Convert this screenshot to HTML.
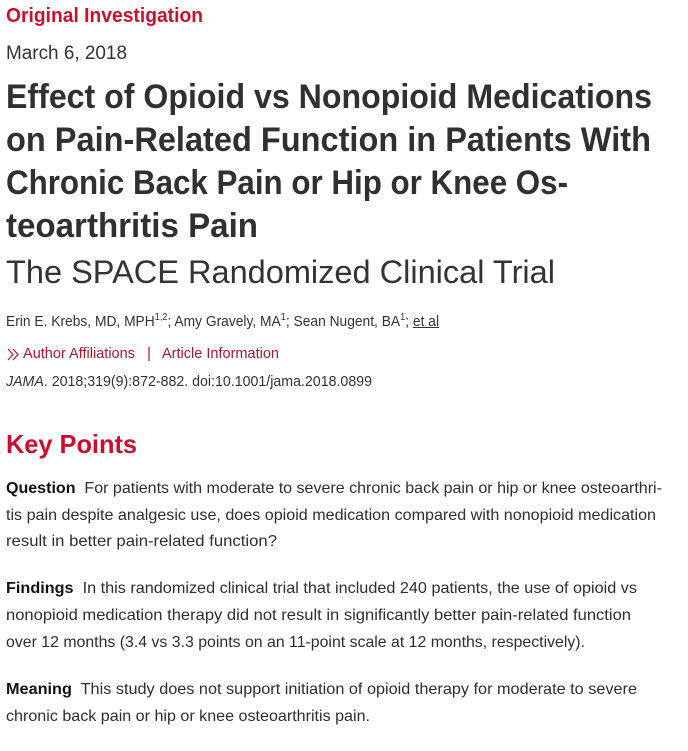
<!DOCTYPE html>
<html>
<head>
<meta charset="utf-8">
<style>
  html,body{margin:0;padding:0;background:#fff;}
  body{width:688px;height:751px;position:relative;overflow:hidden;font-family:"Liberation Sans",Arial,sans-serif;color:#333;}
  .ln{position:absolute;left:6px;white-space:nowrap;line-height:1;transform-origin:0 0;}
  .ln span.in{display:inline-block;white-space:nowrap;}
  .oi{font-size:20px;font-weight:bold;color:#c8102e;}
  .date{font-size:19px;color:#333;}
  .ti{font-size:34.5px;font-weight:bold;color:#303030;}
  .sub{font-size:32px;color:#333;}
  .au{font-size:15px;color:#333;}
  .au sup{font-size:10px;line-height:0;vertical-align:6px;}
  .au u{text-decoration:underline;}
  .lk{font-size:15px;color:#9e1b32;}
  .kp{font-size:26px;font-weight:bold;color:#c8102e;}
  .bd{font-size:16px;color:#2e2e2e;}
  .bd b{color:#111;}
</style>
</head>
<body>
<div class="ln oi" style="top:6px"><span class="in">Original Investigation</span></div>
<div class="ln date" style="top:44px"><span class="in">March 6, 2018</span></div>

<div class="ln ti" style="top:80px"><span class="in">Effect of Opioid vs Nonopioid Medications</span></div>
<div class="ln ti" style="top:123px"><span class="in">on Pain-Related Function in Patients With</span></div>
<div class="ln ti" style="top:166px"><span class="in">Chronic Back Pain or Hip or Knee Os-</span></div>
<div class="ln ti" style="top:209px"><span class="in">teoarthritis Pain</span></div>
<div class="ln sub" style="top:256px"><span class="in">The SPACE Randomized Clinical Trial</span></div>

<div class="ln au" style="top:314px"><span class="in">Erin E. Krebs, MD, MPH<sup>1,2</sup>; Amy Gravely, MA<sup>1</sup>; Sean Nugent, BA<sup>1</sup>; <u>et al</u></span></div>

<svg style="position:absolute;left:7px;top:348px" width="13" height="13" viewBox="0 0 13 13">
  <polyline points="1,1 6,6.5 1,12" fill="none" stroke="#9e1b32" stroke-width="1.2"/>
  <polyline points="6,1 11,6.5 6,12" fill="none" stroke="#9e1b32" stroke-width="1.2"/>
</svg>
<div class="ln lk" style="top:346px;left:23px"><span class="in">Author Affiliations</span></div>
<div class="ln lk" style="top:346px;left:147px"><span class="in">|</span></div>
<div class="ln lk" style="top:346px;left:162px"><span class="in">Article Information</span></div>

<div class="ln au" style="top:374px"><span class="in"><i>JAMA</i>. 2018;319(9):872-882. doi:10.1001/jama.2018.0899</span></div>

<div class="ln kp" style="top:431px"><span class="in">Key Points</span></div>

<div class="ln bd" style="top:481px"><span class="in"><b>Question</b>&nbsp; For patients with moderate to severe chronic back pain or hip or knee osteoarthri-</span></div>
<div class="ln bd" style="top:508px"><span class="in">tis pain despite analgesic use, does opioid medication compared with nonopioid medication</span></div>
<div class="ln bd" style="top:534px"><span class="in">result in better pain-related function?</span></div>

<div class="ln bd" style="top:581px"><span class="in"><b>Findings</b>&nbsp; In this randomized clinical trial that included 240 patients, the use of opioid vs</span></div>
<div class="ln bd" style="top:608px"><span class="in">nonopioid medication therapy did not result in significantly better pain-related function</span></div>
<div class="ln bd" style="top:635px"><span class="in">over 12 months (3.4 vs 3.3 points on an 11-point scale at 12 months, respectively).</span></div>

<div class="ln bd" style="top:682px"><span class="in"><b>Meaning</b>&nbsp; This study does not support initiation of opioid therapy for moderate to severe</span></div>
<div class="ln bd" style="top:709px"><span class="in">chronic back pain or hip or knee osteoarthritis pain.</span></div>

<script>
(function(){
  var rights=[203,127,652,651,568,258,555,439,135,151,279,372,137,662,656,277,637,631,585,637,370];
  var els=document.querySelectorAll('.ln');
  for(var i=0;i<els.length&&i<rights.length;i++){
    var el=els[i];
    var inner=el.querySelector('.in');
    var left=el.getBoundingClientRect().left;
    var w=inner.getBoundingClientRect().width;
    var target=rights[i]-left;
    if(w>0&&target>0){
      var s=target/w;
      el.style.transform='scaleX('+s.toFixed(4)+')';
    }
  }
})();
</script>
</body>
</html>
